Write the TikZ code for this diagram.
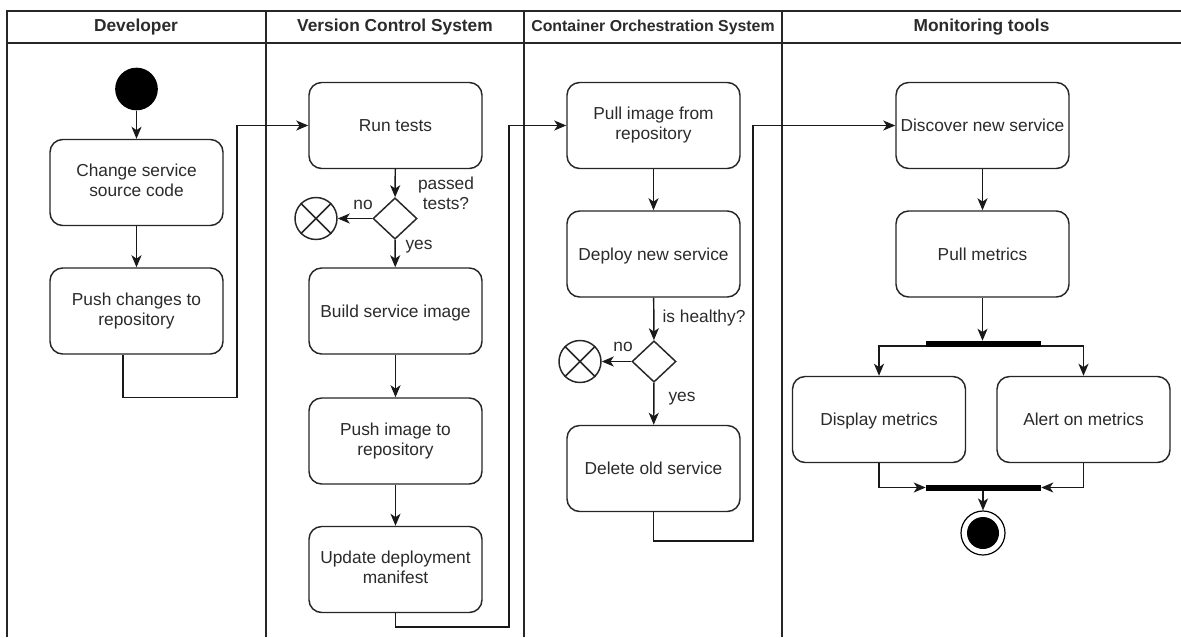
\documentclass[tikz,border=0pt]{standalone}
\usepackage{fontspec}
\setmainfont{Liberation Sans}
\usetikzlibrary{shapes.geometric,arrows.meta}
\definecolor{txt}{HTML}{2B2B2B}
% invisible strut: equal line extents for every action label
\newcommand\boxstrut{\rule[-3pt]{0pt}{15pt}}
\tikzset{
  every node/.style={text=txt, font=\fontsize{13}{15}\selectfont},
  lane/.style={line width=1.3pt, draw=black!85},
  action/.style={draw=black!85, line width=1.1pt, rounded corners=9.5pt,
    minimum width=129.75pt, minimum height=64.5pt, align=center, fill=white, inner sep=2pt,
    execute at begin node=\boxstrut, execute at end node=\boxstrut},
  startnode/.style={circle, fill=black, minimum size=32pt, inner sep=0pt},
  endnode/.style={circle, draw=black, line width=0.9pt, fill=white, minimum size=33pt, inner sep=0pt},
  endcore/.style={circle, fill=black, minimum size=24pt, inner sep=0pt},
  decision/.style={diamond, draw=black!85, line width=1.1pt, minimum width=33pt, minimum height=31pt, inner sep=0pt, fill=white},
  flowend/.style={circle, draw=black!85, line width=1.1pt, minimum size=31.5pt, inner sep=0pt},
  bar/.style={rectangle, fill=black, minimum width=86.25pt, minimum height=4.5pt, inner sep=0pt},
  arr/.style={draw=black!90, line width=1.1pt, -{Stealth[length=9pt,width=7.5pt,inset=2.5pt]}},
  header/.style={font=\bfseries\fontsize{13}{15}\selectfont},
  lbl/.style={align=center, inner sep=0pt},
}
\begin{document}
\begin{tikzpicture}[x=0.75pt, y=-0.75pt]
\useasboundingbox (0,0) rectangle (1181,637);

% swimlane frame
\draw[lane] (7,637) -- (7,10.7) -- (1181,10.7);
\draw[lane] (7,42.7) -- (1181,42.7);
\draw[lane] (265.7,10.7) -- (265.7,637);
\draw[lane] (524,10.7) -- (524,637);
\draw[lane] (782,10.7) -- (782,637);

% lane titles
\node[header] (hdev) at (136,27) {Developer};
\node[header] (hvcs) at (395,27) {Version Control System};
\node[header, font=\bfseries\fontsize{11.9}{14}\selectfont] (hcos) at (653,27) {Container Orchestration System};
\node[header] (hmon) at (981.5,27) {Monitoring tools};

% Developer lane
\node[startnode] (start) at (136.5,89) {};
\node[action] (change) at (136.5,182.5) {Change service\\source code};
\node[action] (pushc) at (136.5,311) {Push changes to\\repository};
\coordinate (e1) at (123,397.7);
\coordinate (e2) at (237,397.7);

% Version control lane
\node[action] (run) at (395.5,125.5) {Run tests};
\node[decision] (dec1) at (395,218.5) {};
\node[flowend] (x1) at (316,218.5) {};
\node[action] (build) at (395.5,311) {Build service image};
\node[action] (pushi) at (395.5,441) {Push image to\\repository};
\node[action] (upd) at (395.5,569.5) {Update deployment\\manifest};
\coordinate (v1) at (395.5,627);
\coordinate (v2) at (509,627);

% Container orchestration lane
\node[action] (pull) at (653.5,125.5) {Pull image from\\repository};
\node[action] (deploy) at (653.5,254) {Deploy new service};
\node[decision] (dec2) at (654,361.5) {};
\node[flowend] (x2) at (580,361.5) {};
\node[action] (del) at (653.5,468.5) {Delete old service};
\coordinate (c1) at (653.5,541);
\coordinate (c2) at (753,541);

% Monitoring lane
\node[action] (disc) at (982.5,125.5) {Discover new service};
\node[action] (pm) at (982.5,254) {Pull metrics};
\node[bar] (fork) at (983.5,344) {};
\node[action] (disp) at (879,419.5) {Display metrics};
\node[action] (alert) at (1083.5,419.5) {Alert on metrics};
\node[bar] (join) at (983.5,487.5) {};
\node[endnode] (fin) at (983,533) {};
\node[endcore] (fincore) at (fin) {};

% crosses in the flow-final nodes
\foreach \n in {x1,x2}{
  \draw[line width=1.1pt, draw=black!85] (\n.45) -- (\n.225) (\n.135) -- (\n.-45);
}

% connectors
\draw[arr] (start) -- (change);
\draw[arr] (change) -- (pushc);
\draw[arr] (pushc.south -| e1) -- (e1) -- (e2) |- (run);
\draw[arr] (run) -- (dec1);
\draw[arr] (dec1) -- (x1);
\draw[arr] (dec1) -- (build);
\draw[arr] (build) -- (pushi);
\draw[arr] (pushi) -- (upd);
\draw[arr] (upd.south) -- (v1) -- (v2) |- (pull);
\draw[arr] (pull) -- (deploy);
\draw[arr] (deploy) -- (dec2);
\draw[arr] (dec2) -- (x2);
\draw[arr] (dec2) -- (del);
\draw[arr] (del.south) -- (c1) -- (c2) |- (disc);
\draw[arr] (disc) -- (pm);
\draw[arr] (pm) -- (fork.north -| pm);
\draw[arr] (fork.south west) ++(0,-1.5) -| (disp.north);
\draw[arr] (fork.south east) ++(0,-1.5) -| (alert.north);
\draw[arr] (disp.south) |- (join.west);
\draw[arr] (alert.south) |- (join.east);
\draw[arr] (join.south -| fin) -- (fin);

% guard labels
\node[lbl] (l1) at (446,193) {passed\\tests?};
\node[lbl] (l2) at (363,205) {no};
\node[lbl] (l3) at (419,247) {yes};
\node[lbl] (l4) at (704,318) {is healthy?};
\node[lbl] (l5) at (623,347) {no};
\node[lbl] (l6) at (682,399) {yes};
\end{tikzpicture}
\end{document}
